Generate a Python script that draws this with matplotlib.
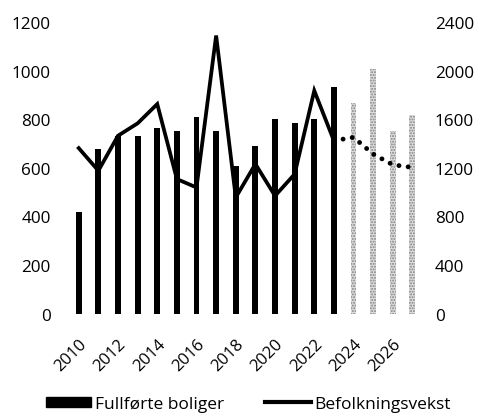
import matplotlib
matplotlib.use("Agg")
from matplotlib import pyplot as plt
from matplotlib.patches import Patch
from matplotlib.lines import Line2D
import numpy as np

plt.rcParams['font.family'] = ['Open Sans', 'DejaVu Sans']
plt.rcParams['hatch.linewidth'] = 1.0

# data
years = list(range(2010, 2028))
boliger = [419, 678, 733, 733, 764, 750, 811, 750, 609, 689, 801, 785, 801, 932,
           866, 1007, 752, 819]
n_actual = 14  # 2010-2023 built, 2024-2027 planned

vekst_years = list(range(2010, 2024))
vekst = [1363, 1177, 1465, 1567, 1726, 1108, 1039, 2290, 957, 1232, 970, 1149, 1836, 1424]
prog_years = [2023, 2024, 2025, 2026, 2027]
prog = [1424, 1452, 1314, 1226, 1204]

fig = plt.figure(figsize=(4.82, 4.14), dpi=100)
ax = fig.add_axes([0.143, 0.24, 0.733, 0.704])
ax2 = ax.twinx()

x = np.array(years)
ax.bar(x[:n_actual], boliger[:n_actual], width=0.3, color='black')
ax.bar(x[n_actual:], boliger[n_actual:], width=0.3, color='#e0e0e0',
       hatch='......', edgecolor='#808080', linewidth=0)

ax2.plot(vekst_years, vekst, color='black', lw=2.7, solid_joinstyle='miter')
ax2.plot(prog_years, prog, color='black', lw=3.5, linestyle=(0, (0.01, 1.9)),
         dash_capstyle='round')

ax.set_xlim(2009.5, 2027.5)
ax.set_ylim(0, 1200)
ax2.set_ylim(0, 2400)
ax.set_yticks(range(0, 1201, 200))
ax2.set_yticks(range(0, 2401, 400))
ax.set_xticks(range(2010, 2027, 2))
ax.set_xticklabels([str(y) for y in range(2010, 2027, 2)], rotation=45,
                   ha='right', rotation_mode='anchor')

for a in (ax, ax2):
    for s in a.spines.values():
        s.set_visible(False)
    a.tick_params(length=0, labelsize=12.3)
ax.tick_params(axis='y', pad=13)
ax2.tick_params(axis='y', pad=9)
ax.tick_params(axis='x', pad=16, labelsize=12)

handles = [Patch(color='black'), Line2D([0], [0], color='black', lw=3)]
fig.legend(handles, ['Fullførte boliger', 'Befolkningsvekst'], loc='lower center',
           ncol=2, frameon=False, fontsize=12.5, bbox_to_anchor=(0.515, -0.035),
           handlelength=2.6, handleheight=0.5, handletextpad=0.2, columnspacing=2.4)

fig.savefig('out.png', dpi=100)
